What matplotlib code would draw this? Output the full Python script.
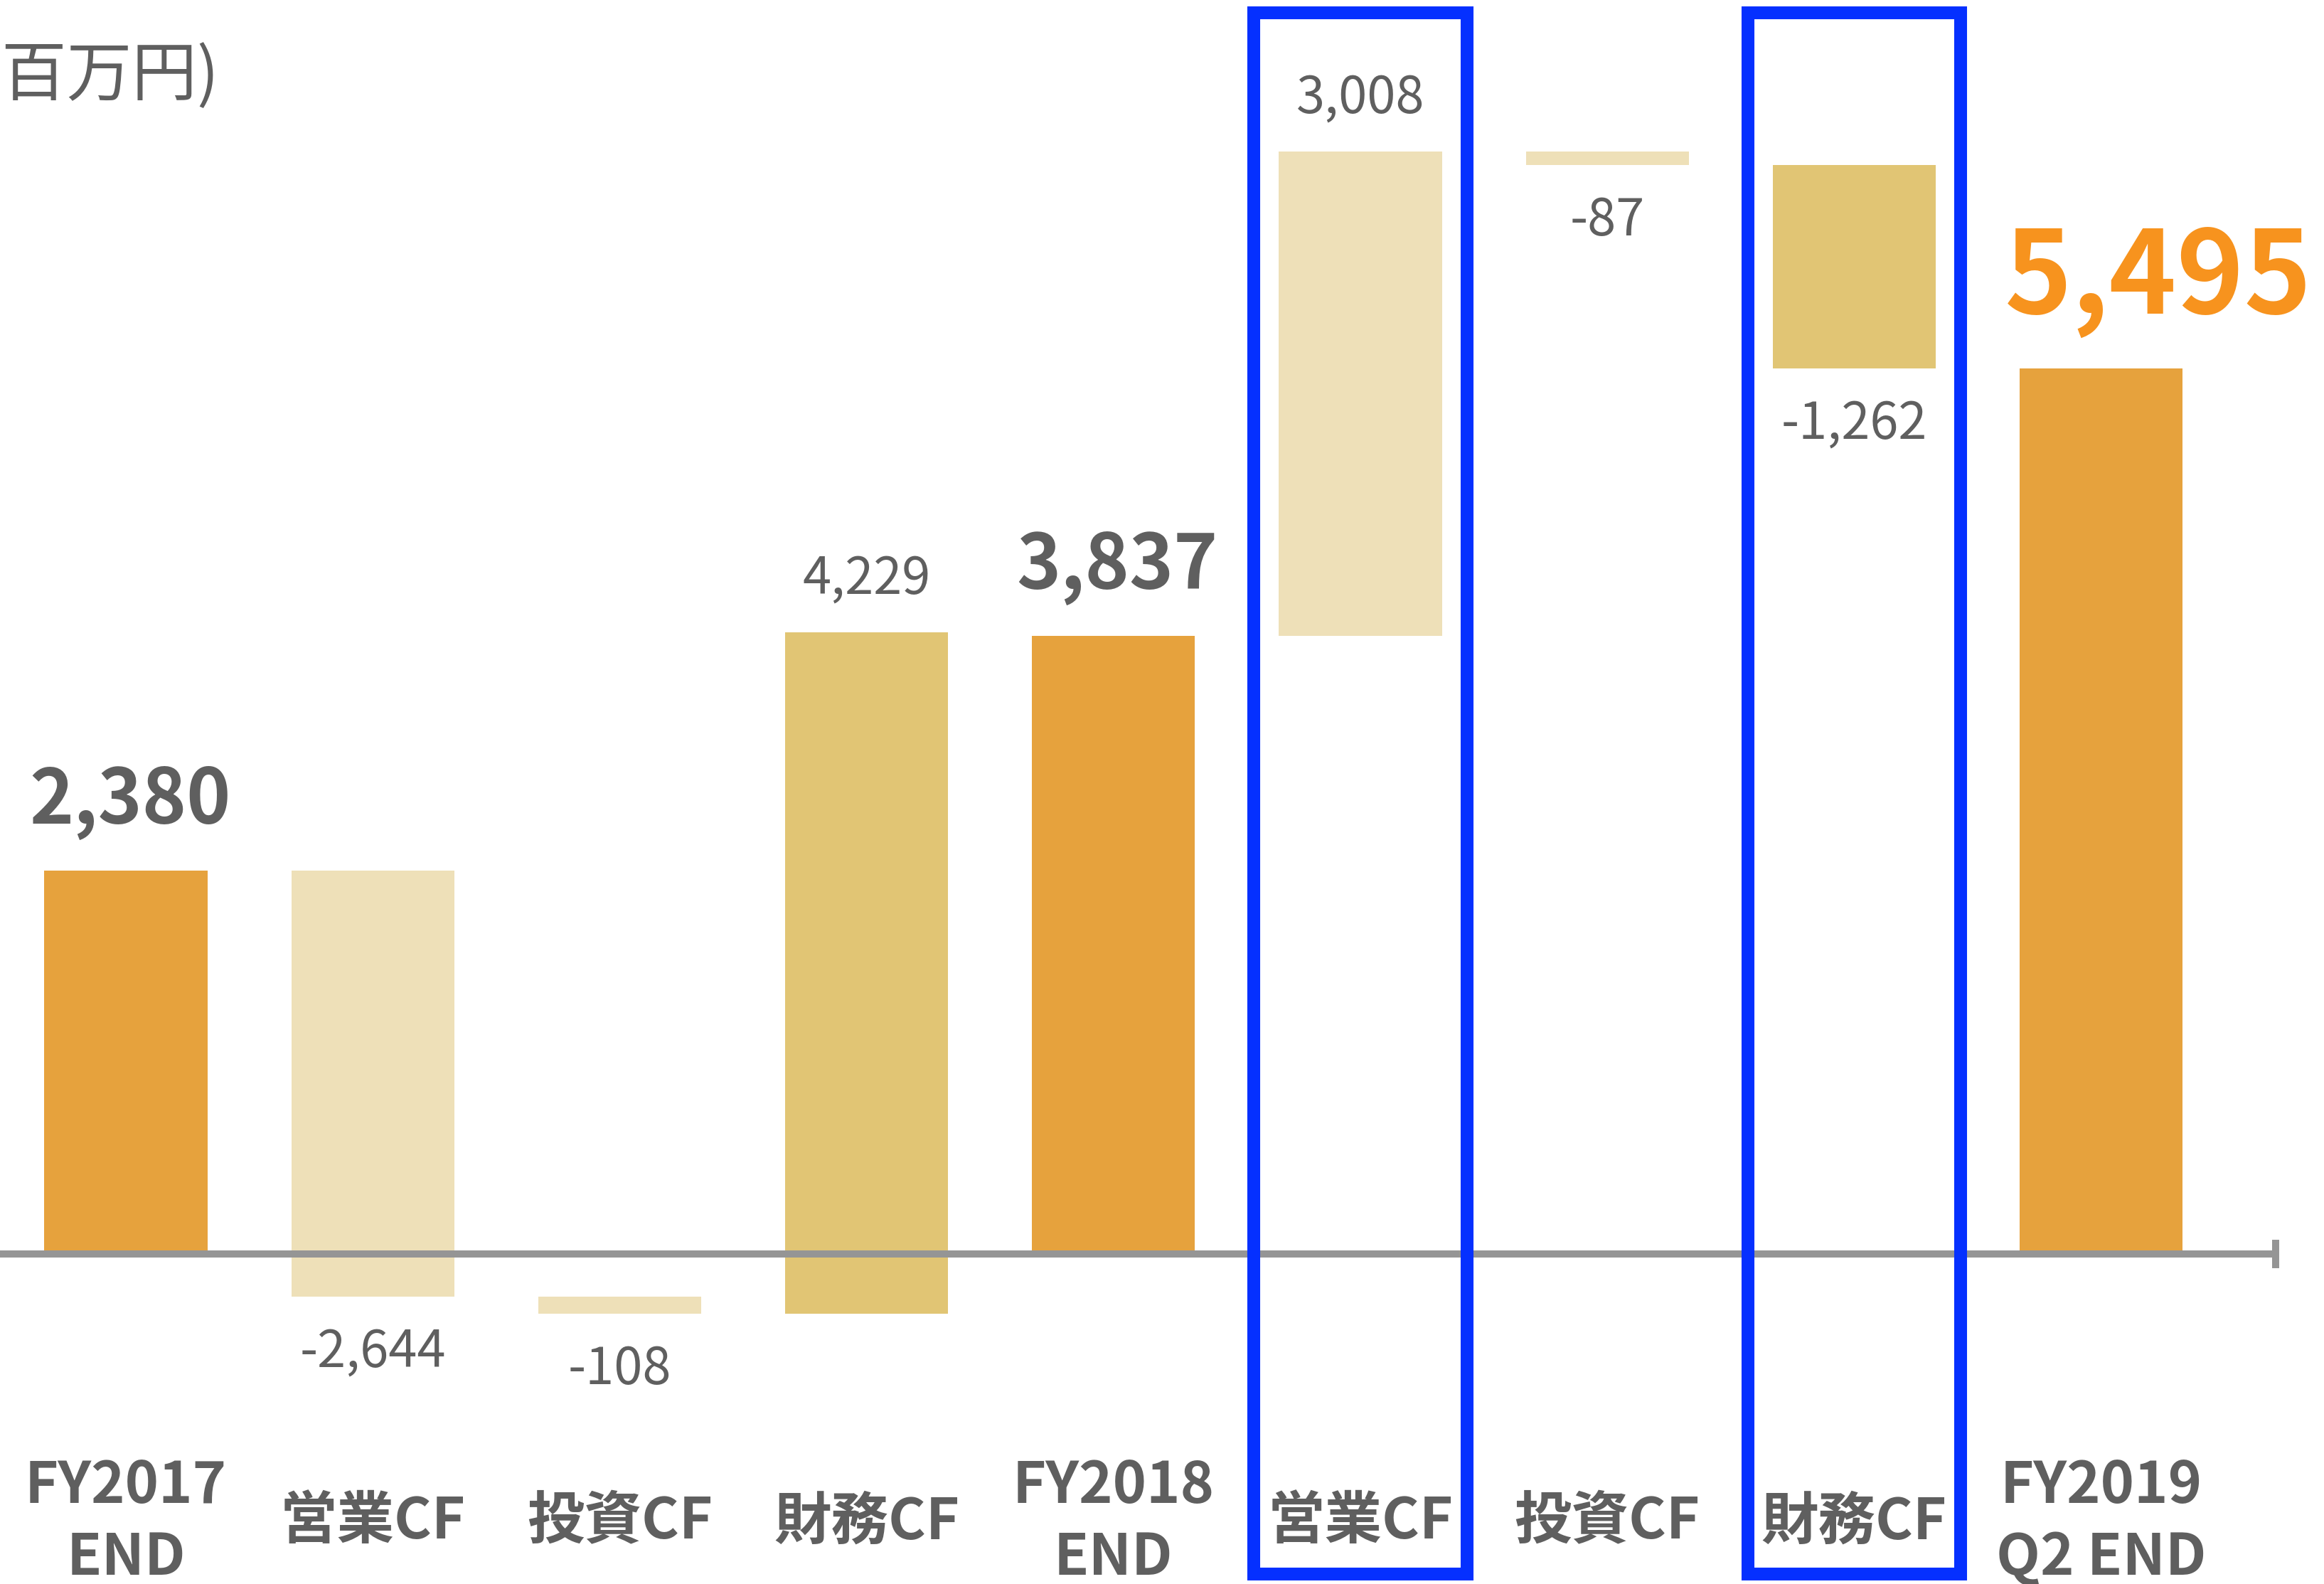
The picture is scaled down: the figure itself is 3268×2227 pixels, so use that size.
import matplotlib
matplotlib.use("Agg")
import matplotlib.pyplot as plt
import matplotlib.transforms as mtransforms
from matplotlib.patches import Rectangle

plt.rcParams["font.family"] = ["Noto Sans CJK JP", "DejaVu Sans"]

# data
categories = ["FY2017\nEND", "営業CF", "投資CF", "財務CF", "FY2018\nEND",
              "営業CF", "投資CF", "財務CF", "FY2019\nQ2 END"]
values = [2380, -2644, -108, 4229, 3837, 3008, -87, -1262, 5495]
kinds = ["total", "op", "inv", "fin", "total", "op", "inv", "fin", "total"]
value_labels = ["2,380", "-2,644", "-108", "4,229", "3,837",
                "3,008", "-87", "-1,262", "5,495"]
highlighted = [5, 7]
unit_label = "(百万円)"

colors = {"total": "#E6A23D", "op": "#EEE0B8", "inv": "#EEE0B8", "fin": "#E1C574"}
text_grey = "#5F5F5F"
final_orange = "#F7931E"
box_blue = "#0530FF"

W, H, DPI = 3268, 2227, 200
fig = plt.figure(figsize=(W / DPI, H / DPI), dpi=DPI)
ax = fig.add_axes([0, 0, 1, 1])
ax.axis("off")

# layout from the reference: baseline at pixel 1763, ~4.415 units per pixel
units_per_px = 4.415
base_px = 1763
ax.set_ylim(-(H - base_px) * units_per_px, base_px * units_per_px)
step_px, x0_px = 347.2, 177
ax.set_xlim(-x0_px / step_px, (W - x0_px) / step_px)

bar_w = 0.66
running = 0
n = len(values)
for i, (v, k, lab) in enumerate(zip(values, kinds, value_labels)):
    if k == "total":
        bottom, top = 0, v
        running = v
    else:
        bottom = running
        top = running + v
        running = top
    ax.bar(i, top - bottom, bottom=bottom, width=bar_w, color=colors[k], zorder=2)

    if k == "total":
        last = i == n - 1
        ax.annotate(lab, (i, top), xytext=(29 if last else 2, 45 if last else 35),
                    textcoords="offset points", ha="center", va="center",
                    fontsize=58 if last else 38, fontweight="bold",
                    color=final_orange if last else text_grey)
    else:
        y_end = max(bottom, top) if v > 0 else min(bottom, top)
        dy = 27 if v > 0 else -28
        ax.annotate(lab, (i, y_end), xytext=(0, dy), textcoords="offset points",
                    ha="center", va="center", fontsize=26, color=text_grey)

# baseline with end tick
x_end = (3200 - x0_px) / step_px
ax.plot([ax.get_xlim()[0], x_end], [0, 0], color="#959595", lw=3.6,
        solid_capstyle="butt", zorder=3)
ax.plot([x_end, x_end], [-90, 90], color="#959595", lw=3.6,
        solid_capstyle="butt", zorder=3)

# category labels
trans = mtransforms.blended_transform_factory(ax.transData, ax.transAxes)
for i, c in enumerate(categories):
    ax.text(i, (H - 2140) / H, c, transform=trans, ha="center", va="center",
            multialignment="center", fontsize=29, fontweight="bold",
            color=text_grey, linespacing=1.3)

# highlight boxes
for i in highlighted:
    ax.add_patch(Rectangle((i - 0.431, (H - 2213) / H), 0.862,
                           (2213 - 17.5) / H, transform=trans, fill=False,
                           edgecolor=box_blue, lw=6.5, zorder=4, clip_on=False))

# unit label runs off the left edge, as in the reference
fig.text(308 / W, 1 - 108 / H, unit_label, ha="right", va="center",
         fontsize=33, color=text_grey)

fig.savefig("out.png", dpi=DPI)
